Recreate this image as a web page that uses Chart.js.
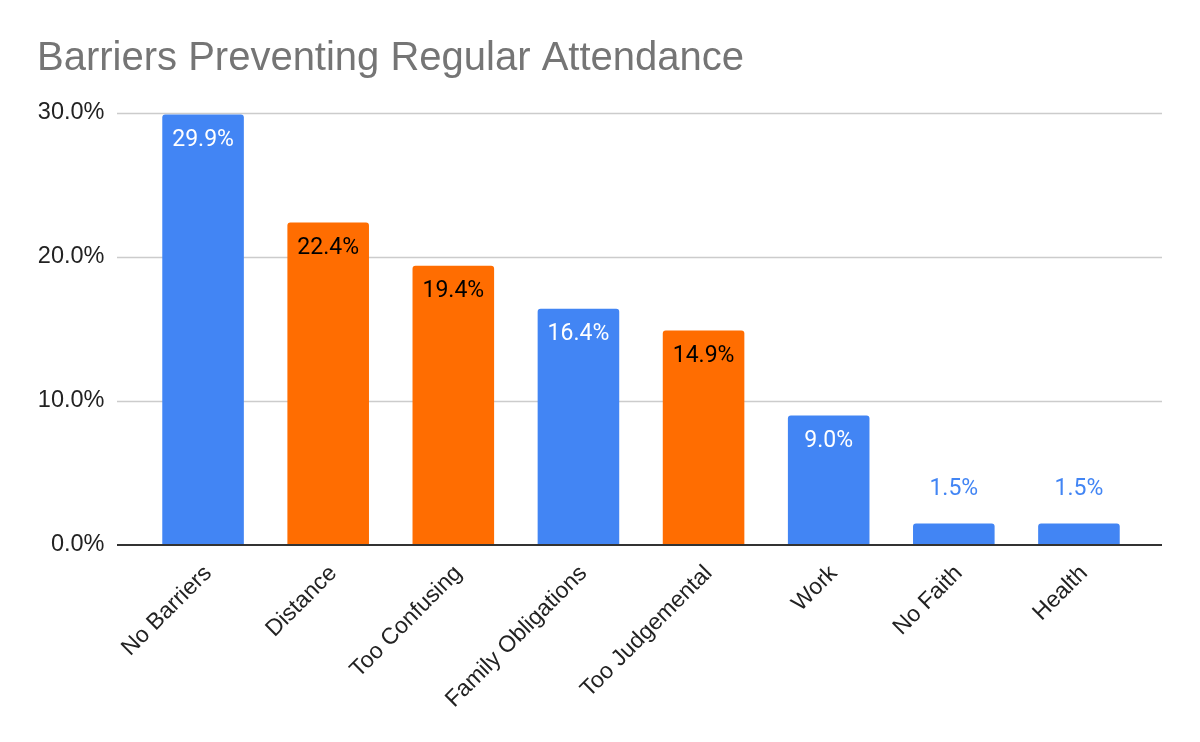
<!DOCTYPE html>
<html>
<head>
<meta charset="utf-8">
<title>Barriers Preventing Regular Attendance</title>
<script src="https://cdn.jsdelivr.net/npm/chart.js@4.4.1/dist/chart.umd.min.js"></script>
<style>
  html, body { margin: 0; padding: 0; background: #fff; }
  #wrap { width: 1200px; height: 742px; }
</style>
</head>
<body>
<div id="wrap"><canvas id="barChart" width="1200" height="742"></canvas></div>
<script>
// data
var categories = ['No Barriers', 'Distance', 'Too Confusing', 'Family Obligations',
                  'Too Judgemental', 'Work', 'No Faith', 'Health'];
var percentages = [29.9, 22.4, 19.4, 16.4, 14.9, 9.0, 1.5, 1.5];
var yTickValues = [0, 10, 20, 30];

var BLUE = '#4285F4';
var ORANGE = '#FF6D01';
var barColors = [BLUE, ORANGE, ORANGE, BLUE, ORANGE, BLUE, BLUE, BLUE];

// gridlines in the original run a bit past the outer bars
var gridPlugin = {
    id: 'extendedGrid',
    beforeDatasetsDraw: function (chart) {
        var ctx = chart.ctx, area = chart.chartArea, y = chart.scales.y;
        var left = area.left - 23.5, right = area.right + 20.5;
        ctx.save();
        ctx.strokeStyle = '#cccccc';
        ctx.lineWidth = 1.5;
        yTickValues.forEach(function (v) {
            if (v === 0) return;
            var py = Math.round(y.getPixelForValue(v)) + 0.5;
            ctx.beginPath();
            ctx.moveTo(left, py);
            ctx.lineTo(right, py);
            ctx.stroke();
        });
        ctx.restore();
    },
    afterDatasetsDraw: function (chart) {
        var ctx = chart.ctx, area = chart.chartArea, y = chart.scales.y;
        var py = y.getPixelForValue(0);
        ctx.save();
        ctx.strokeStyle = '#333333';
        ctx.lineWidth = 2;
        ctx.beginPath();
        ctx.moveTo(area.left - 23.5, py);
        ctx.lineTo(area.right + 20.5, py);
        ctx.stroke();
        ctx.restore();
    }
};

// value labels: inside the bar top when it fits, above it otherwise
var valueLabels = {
    id: 'valueLabels',
    afterDatasetsDraw: function (chart) {
        var ctx = chart.ctx;
        var meta = chart.getDatasetMeta(0);
        ctx.save();
        ctx.font = '23px Roboto, "Liberation Sans", sans-serif';
        ctx.textAlign = 'center';
        ctx.textBaseline = 'middle';
        meta.data.forEach(function (bar, i) {
            var txt = percentages[i].toFixed(1) + '%';
            var h = bar.base - bar.y;
            if (h > 40) {
                ctx.fillStyle = barColors[i] === ORANGE ? '#000000' : '#ffffff';
                ctx.fillText(txt, bar.x, bar.y + 25.5);
            } else {
                ctx.fillStyle = barColors[i];
                ctx.fillText(txt, bar.x, bar.y - 34.5);
            }
        });
        ctx.restore();
    }
};

var ctx = document.getElementById('barChart').getContext('2d');
var chart = new Chart(ctx, {
    type: 'bar',
    data: {
        labels: categories,
        datasets: [{
            data: percentages,
            backgroundColor: barColors,
            borderRadius: { topLeft: 3, topRight: 3, bottomLeft: 0, bottomRight: 0 },
            borderSkipped: 'start',
            barPercentage: 0.652,
            categoryPercentage: 1.0
        }]
    },
    options: {
        responsive: false,
        animation: false,
        devicePixelRatio: 1,
        layout: { padding: { left: 37, right: 58.5, top: 0, bottom: 0 } },
        plugins: {
            legend: { display: false },
            tooltip: { enabled: false },
            title: {
                display: true,
                text: 'Barriers Preventing Regular Attendance',
                align: 'start',
                color: '#757575',
                font: { family: '"Liberation Sans", Arial, sans-serif', size: 40, weight: 'normal' },
                padding: { top: 35, bottom: 30 }
            }
        },
        scales: {
            x: {
                grid: { display: false, drawTicks: false },
                border: { display: false },
                ticks: {
                    autoSkip: false,
                    maxRotation: 45,
                    minRotation: 45,
                    padding: 15,
                    labelOffset: 5,
                    color: '#222222',
                    font: { family: '"Liberation Sans", Arial, sans-serif', size: 23 }
                },
                afterFit: function (scale) { scale.height = 197; }
            },
            y: {
                min: 0,
                max: 30,
                afterBuildTicks: function (scale) {
                    scale.ticks = yTickValues.map(function (v) { return { value: v }; });
                },
                grid: { display: false, drawTicks: false },
                border: { display: false },
                ticks: {
                    padding: 36,
                    color: '#222222',
                    font: { family: '"Liberation Sans", Arial, sans-serif', size: 23.5 },
                    callback: function (v) { return v.toFixed(1) + '%'; }
                },
                afterFit: function (scale) { scale.width = 103.5; }
            }
        }
    },
    plugins: [gridPlugin, valueLabels]
});
</script>
</body>
</html>
